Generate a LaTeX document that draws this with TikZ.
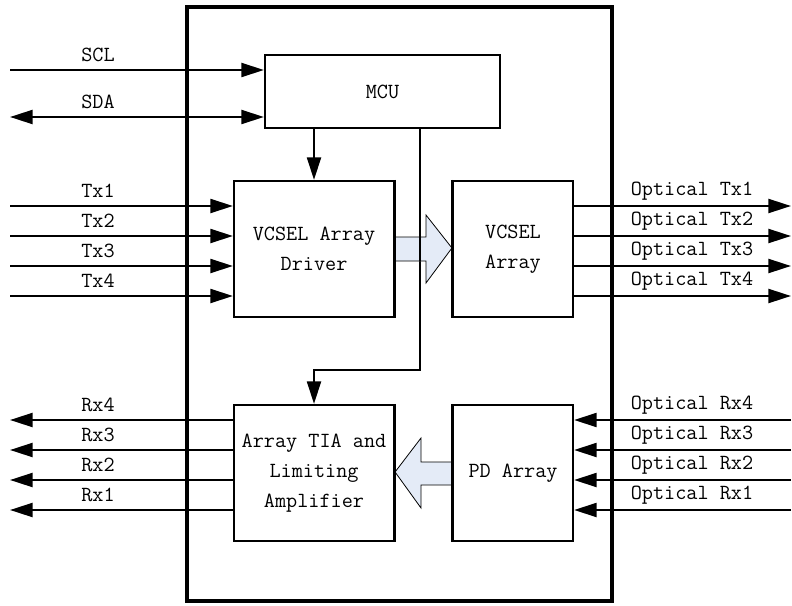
\documentclass[tikz,border=0pt]{standalone}
\usetikzlibrary{arrows.meta,positioning}
\definecolor{fatfill}{RGB}{228,235,247}
\begin{document}
\begin{tikzpicture}[x=0.75pt,y=-0.75pt,
  blk/.style={draw,line width=1.6pt,inner sep=0pt,align=center,font=\ttfamily\fontsize{16.2}{22.5}\selectfont},
  sig/.style={line width=1.7pt},
  tip/.style={-{Triangle[length=17pt,width=10.5pt]}},
  lbl/.style={font=\ttfamily\fontsize{16.2}{16}\selectfont,inner sep=0pt},
  fat/.style={draw,line width=0.6pt,fill=fatfill}]
\useasboundingbox (0,0) rectangle (792,606);
\node[draw,line width=3pt,minimum width=425*0.75pt,minimum height=594*0.75pt,inner sep=0pt] (outer) at (399.5,304) {};
\node[blk,minimum width=235*0.75pt,minimum height=73*0.75pt] (mcu) at (382.5,91.5) {MCU};
\node[blk,minimum width=160*0.75pt,minimum height=136*0.75pt] (drv) at (314,249) {VCSEL Array\\Driver};
\node[blk,minimum width=120*0.75pt,minimum height=136*0.75pt] (vcsel) at (513,249) {VCSEL\\Array};
\node[blk,minimum width=160*0.75pt,minimum height=136*0.75pt] (tia) at (314,473) {Array TIA and\\Limiting\\Amplifier};
\node[blk,minimum width=120*0.75pt,minimum height=136*0.75pt] (pd) at (513,473) {PD Array};
% I2C
\coordinate (sclL) at (10,70);
\coordinate (sdaL) at (10,117);
\draw[sig,tip] (sclL) -- (sclL -| mcu.west);
\draw[sig,{Triangle[length=17pt,width=10.5pt]}-{Triangle[length=17pt,width=10.5pt]}] (sdaL) -- (sdaL -| mcu.west);
\node[lbl] (scl) at (98,55) {SCL};
\node[lbl] (sda) at (98,102) {SDA};
% Tx
\foreach \i/\y in {1/206,2/236,3/266,4/296}{
  \coordinate (txL\i) at (10,\y);
  \coordinate (otR\i) at (791,\y);
  \draw[sig,tip] (txL\i) -- (txL\i -| drv.west);
  \draw[sig,tip] (otR\i -| vcsel.east) -- (otR\i);
  \node[lbl] (txl\i) at (98,\y-15) {Tx\i};
  \node[lbl] (otl\i) at (692,\y-15) {Optical Tx\i};
}
% Rx
\foreach \i/\y in {4/420,3/450,2/480,1/510}{
  \coordinate (rxL\i) at (10,\y);
  \coordinate (orR\i) at (791,\y);
  \draw[sig,tip] (rxL\i -| tia.west) -- (rxL\i);
  \draw[sig,tip] (orR\i) -- (orR\i -| pd.east);
  \node[lbl] (rxl\i) at (98,\y-15) {Rx\i};
  \node[lbl] (orl\i) at (692,\y-15) {Optical Rx\i};
}
% MCU control
\draw[sig,tip] (mcu.south -| drv.north) -- (drv.north);
\coordinate (mcuA) at (420,128);
\coordinate (bend) at (420,370);
\draw[sig,tip] (mcuA) -- (bend) -- (bend -| tia.north) -- (tia.north);
% fat arrows
\draw[fat] (drv.east |- 0,237) -- (426,237) -- (426,215) -- (vcsel.west |- 0,248) -- (426,283) -- (426,261) -- (drv.east |- 0,261) -- cycle;
\draw[fat] (pd.west |- 0,462) -- (421,462) -- (421,438) -- (tia.east |- 0,472) -- (421,508) -- (421,485) -- (pd.west |- 0,485) -- cycle;
\draw[sig] (420,237) -- (420,261);
% redraw box borders over arrows
\draw[line width=1.6pt] (drv.north east) -- (drv.south east);
\draw[line width=1.6pt] (vcsel.north west) -- (vcsel.south west);
\draw[line width=1.6pt] (tia.north east) -- (tia.south east);
\draw[line width=1.6pt] (pd.north west) -- (pd.south west);
\end{tikzpicture}
\end{document}
